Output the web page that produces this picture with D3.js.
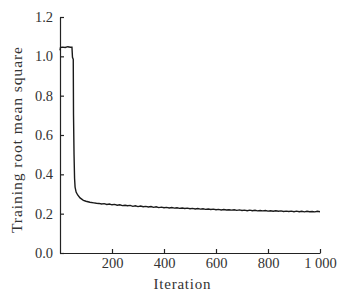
<!DOCTYPE html>
<html>
<head>
<meta charset="utf-8">
<script src="https://cdn.jsdelivr.net/npm/d3@7"></script>
<style>
  body { margin: 0; background: #fff; }
  text { font-family: "Liberation Serif", "DejaVu Serif", serif; fill: #333; }
</style>
</head>
<body>
<script>
'use strict';

// start of training: plateau then sharp drop
const iterHead = [0, 2, 10, 20, 30, 40, 46, 48, 51, 52, 54, 56, 58, 62, 68, 77, 90, 100, 115, 130, 140];
const rmseHead = [1.03, 1.046, 1.047, 1.045, 1.049, 1.046, 1.046, 0.995, 0.985, 0.70, 0.50, 0.38, 0.335, 0.31, 0.295, 0.28, 0.268, 0.263, 0.258, 0.255, 0.253];

// slow tail, read every 10 iterations from 150 to 1000
const tailStart = 150;
const tailStep = 10;
const rmseTail = [
  0.252, 0.249, 0.251, 0.247, 0.249, 0.245, 0.247, 0.243, 0.245, 0.241,
  0.243, 0.240, 0.242, 0.237, 0.240, 0.236, 0.239, 0.235, 0.237, 0.234,
  0.236, 0.232, 0.235, 0.231, 0.233, 0.230, 0.232, 0.229, 0.231, 0.228,
  0.230, 0.227, 0.229, 0.226, 0.228, 0.225, 0.227, 0.224, 0.226, 0.223,
  0.225, 0.222, 0.224, 0.221, 0.223, 0.220, 0.222, 0.219, 0.221, 0.219,
  0.220, 0.218, 0.220, 0.217, 0.219, 0.216, 0.218, 0.215, 0.218, 0.215,
  0.217, 0.214, 0.216, 0.214, 0.216, 0.213, 0.215, 0.212, 0.215, 0.212,
  0.214, 0.211, 0.213, 0.211, 0.213, 0.210, 0.213, 0.210, 0.212, 0.209,
  0.212, 0.210, 0.211, 0.209, 0.212, 0.210
];

const xTicks = [200, 400, 600, 800, 1000];
const yTicks = [0.0, 0.2, 0.4, 0.6, 0.8, 1.0, 1.2];

const m = { width: 344, height: 293, left: 60, right: 320, top: 17, bottom: 253 };

const svg = d3.select('body')
  .append('svg')
  .attr('width', m.width)
  .attr('height', m.height);

// combine head and tail into one series
const series = iterHead.map((it, i) => ({ it: it, v: rmseHead[i] }))
  .concat(rmseTail.map((v, i) => ({ it: tailStart + i * tailStep, v: v })));

const xScale = d3.scaleLinear().domain([0, 1000]).range([m.left, m.right]);
const yScale = d3.scaleLinear().domain([0, 1.2]).range([m.bottom, m.top]);

// thousands separated by a space: "1 000"
const fmtX = d3.formatLocale({ decimal: '.', thousands: ' ', grouping: [3], currency: ['', ''] }).format(',');

// x axis, ticks pointing inward
svg.append('g')
  .attr('transform', 'translate(0,' + m.bottom + ')')
  .call(d3.axisBottom(xScale).tickValues(xTicks).tickSizeInner(-4).tickSizeOuter(0).tickPadding(5).tickFormat(fmtX))
  .call(g => g.selectAll('text').style('font-size', '14.5px').attr('fill', '#333'));

// y axis, ticks pointing inward
svg.append('g')
  .attr('transform', 'translate(' + m.left + ',0)')
  .call(d3.axisLeft(yScale).tickValues(yTicks).tickSizeInner(-4).tickSizeOuter(0).tickPadding(7).tickFormat(d3.format('.1f')))
  .call(g => g.selectAll('text').style('font-size', '14.5px').attr('fill', '#333'));

svg.selectAll('.domain, .tick line').attr('stroke', '#222').attr('stroke-width', 1.2);

// curve
const line = d3.line()
  .x(d => xScale(d.it))
  .y(d => yScale(d.v));

svg.append('path')
  .datum(series)
  .attr('d', line)
  .attr('fill', 'none')
  .attr('stroke', '#1a1a1a')
  .attr('stroke-width', 1.4);

// axis titles
svg.append('text')
  .attr('x', 182)
  .attr('y', 288.5)
  .attr('text-anchor', 'middle')
  .attr('textLength', 57)
  .style('font-size', '15px')
  .text('Iteration');

svg.append('text')
  .attr('transform', 'translate(22,140)rotate(-90)')
  .attr('text-anchor', 'middle')
  .attr('textLength', 186)
  .style('font-size', '15.5px')
  .text('Training root mean square');
</script>
</body>
</html>
